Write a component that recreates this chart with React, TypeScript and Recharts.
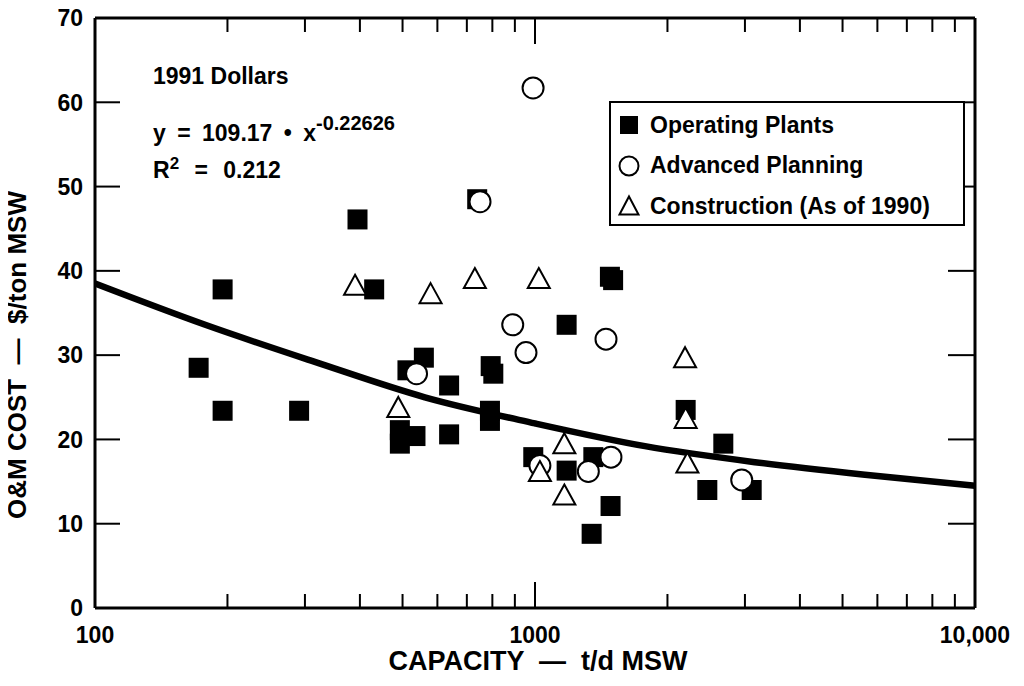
import React from 'react';
import { ScatterChart, Scatter, XAxis, YAxis, Legend, ReferenceLine } from 'recharts';

// Capacity (t/d MSW) and O&M cost ($/ton MSW) pairs for each plant status
const operatingPlants: [number, number][] = [
  [172, 28.5], [195, 37.8], [195, 23.4], [291, 23.4], [395, 46.1], [431, 37.8],
  [739, 48.5], [559, 29.7], [513, 28.2], [638, 26.4], [793, 28.7], [804, 27.8],
  [790, 23.4], [790, 22.2], [493, 21.1], [493, 19.5], [535, 20.4], [638, 20.6],
  [1180, 33.6], [1480, 39.3], [1505, 38.9], [991, 17.9], [1180, 16.3], [1357, 17.9],
  [1485, 12.1], [1345, 8.8], [2200, 23.5], [2679, 19.5], [2464, 14.0], [3108, 14.0],
];
const advancedPlanning: [number, number][] = [
  [750, 48.2], [990, 61.7], [890, 33.6], [1450, 31.9], [954, 30.3], [538, 27.8],
  [1026, 16.9], [1322, 16.2], [1488, 17.9], [2950, 15.2],
];
const construction: [number, number][] = [
  [390, 38.0], [579, 37.0], [730, 38.8], [1020, 38.8], [489, 23.5], [1166, 19.2],
  [1026, 15.9], [1166, 13.1], [2193, 29.4], [2200, 22.2], [2220, 16.9],
];

// Regression curve y = 109.17 * x^-0.22626
const fitCapacity = [100, 178, 316, 562, 1000, 1778, 3162, 5623, 10000];
const fitCost = [38.5, 33.6, 29.2, 25.0, 21.9, 19.2, 17.3, 15.8, 14.5];

const capacityTicks = [100, 200, 300, 400, 500, 600, 700, 800, 900, 1000, 2000, 3000, 4000, 5000, 6000, 7000, 8000, 9000, 10000];
const capacityLabels: Record<number, string> = { 100: '100', 1000: '1000', 10000: '10,000' };
const costTicks = [0, 10, 20, 30, 40, 50, 60, 70];

const seriesOrder = ['Operating Plants', 'Advanced Planning', 'Construction (As of 1990)'];

const X_MIN = capacityTicks[0];
const X_MAX = capacityTicks[capacityTicks.length - 1];
const Y_MIN = costTicks[0];
const Y_MAX = costTicks[costTicks.length - 1];

// Chart layout
const CHART_W = 1008;
const CHART_H = 678;
const MARGIN = { top: 18, right: 41, bottom: 0, left: 0 };
const Y_AXIS_W = 87;
const X_AXIS_H = 70;
const PLOT_W = CHART_W - MARGIN.left - MARGIN.right - Y_AXIS_W;
const PLOT_H = CHART_H - MARGIN.top - MARGIN.bottom - X_AXIS_H;

// Tick lengths in pixels, turned into axis units for the frame's edge ticks
const MINOR_TICK = 14;
const MAJOR_TICK = 26;
const LEFT_TICK = 25;
const RIGHT_TICK = 27;
const costPerPx = (Y_MAX - Y_MIN) / PLOT_H;
const decadesPerPx = Math.log10(X_MAX / X_MIN) / PLOT_W;

const toPoints = (rows: [number, number][]) => rows.map(([capacity, cost]) => ({ capacity, cost }));
const fitPoints = fitCapacity.map((capacity, i) => ({ capacity, cost: fitCost[i] }));

const innerCapacityTicks = capacityTicks.slice(1, -1);
const innerCostTicks = costTicks.slice(1, -1);
const bottomTickAnchors = innerCapacityTicks.map((capacity) => ({
  capacity,
  cost: Y_MIN,
  major: !!capacityLabels[capacity],
}));

const FONT = '"Liberation Sans", Arial, Helvetica, sans-serif';
const INK = '#000';

const Square = (props: any) => {
  const { cx, cy } = props;
  return <rect x={cx - 10} y={cy - 10} width={20} height={20} fill={INK} />;
};
const Circle = (props: any) => {
  const { cx, cy } = props;
  return <circle cx={cx} cy={cy} r={10.5} fill="#fff" stroke={INK} strokeWidth={2} />;
};
const Triangle = (props: any) => {
  const { cx, cy } = props;
  return (
    <path
      d={`M${cx},${cy - 13} L${cx + 11},${cy + 7} L${cx - 11},${cy + 7} Z`}
      fill="#fff"
      stroke={INK}
      strokeWidth={2}
    />
  );
};
const NoMark = () => <g />;

// Upward tick on the bottom edge of the frame
const BottomTickMark = (props: any) => {
  const { cx, cy, payload } = props;
  const len = payload && payload.major ? MAJOR_TICK : MINOR_TICK;
  return <path d={`M${cx},${cy}v${-len}`} stroke={INK} strokeWidth={2} fill="none" />;
};

const tickText = { fontFamily: FONT, fontWeight: 700, fontSize: 23, fill: INK } as const;

const CapacityLabel = (props: any) => {
  const { x, y, payload } = props;
  const label = capacityLabels[Number(payload.value)];
  if (!label) return <g />;
  return (
    <text x={x} y={y + 35} textAnchor="middle" style={tickText}>
      {label}
    </text>
  );
};
const CostLabel = (props: any) => {
  const { x, y, payload } = props;
  return (
    <text x={x - 12} y={y} dy="0.36em" textAnchor="end" style={tickText}>
      {payload.value}
    </text>
  );
};

const legendIcons: Record<string, React.ReactNode> = {
  'Operating Plants': <rect x={1} y={1} width={18} height={18} fill={INK} />,
  'Advanced Planning': <circle cx={10} cy={10} r={9.5} fill="#fff" stroke={INK} strokeWidth={2} />,
  'Construction (As of 1990)': <path d="M10,0.5 L19.5,18.5 L0.5,18.5 Z" fill="#fff" stroke={INK} strokeWidth={2} />,
};

const StatusLegend = (props: any) => {
  const names = (props.payload || []).map((p: any) => p.value);
  const items = seriesOrder.filter((n) => names.includes(n));
  return (
    <div
      style={{
        border: `2.5px solid ${INK}`,
        width: 356,
        height: 125,
        boxSizing: 'border-box',
        padding: '2px 0 0 8px',
        background: '#fff',
      }}
    >
      {items.map((name) => (
        <div key={name} style={{ display: 'flex', alignItems: 'center', height: 40.5 }}>
          <svg width={20} height={20} style={{ marginRight: 11, overflow: 'visible' }}>
            {legendIcons[name]}
          </svg>
          <span style={{ fontFamily: FONT, fontWeight: 700, fontSize: 23, color: INK, whiteSpace: 'nowrap' }}>
            {name}
          </span>
        </div>
      ))}
    </div>
  );
};

const overlayText: React.CSSProperties = {
  position: 'absolute',
  fontFamily: FONT,
  fontWeight: 700,
  fontSize: 23,
  color: INK,
  lineHeight: '24px',
  whiteSpace: 'pre',
};

export default function App() {
  return (
    <div style={{ position: 'relative', top: -8, width: CHART_W, height: CHART_H }}>
      <ScatterChart width={CHART_W} height={CHART_H} margin={MARGIN}>
        <XAxis
          dataKey="capacity"
          type="number"
          scale="log"
          domain={[X_MIN, X_MAX]}
          ticks={capacityTicks}
          interval={0}
          height={X_AXIS_H}
          tickSize={0}
          tickMargin={0}
          tickLine={false}
          axisLine={{ stroke: INK, strokeWidth: 3 }}
          tick={<CapacityLabel />}
        />
        <YAxis
          dataKey="cost"
          type="number"
          domain={[Y_MIN, Y_MAX]}
          ticks={costTicks}
          interval={0}
          width={Y_AXIS_W}
          tickSize={0}
          tickMargin={0}
          tickLine={false}
          axisLine={{ stroke: INK, strokeWidth: 3 }}
          tick={<CostLabel />}
        />

        {/* top and right edges of the frame */}
        <ReferenceLine y={Y_MAX} stroke={INK} strokeWidth={3} />
        <ReferenceLine x={X_MAX} stroke={INK} strokeWidth={3} />

        {/* downward ticks along the top edge */}
        {innerCapacityTicks.map((v) => (
          <ReferenceLine
            key={`top-${v}`}
            ifOverflow="visible"
            stroke={INK}
            strokeWidth={2}
            segment={[
              { x: v, y: Y_MAX },
              { x: v, y: Y_MAX - (capacityLabels[v] ? MAJOR_TICK : MINOR_TICK) * costPerPx },
            ]}
          />
        ))}
        {/* inward ticks along the left and right edges */}
        {innerCostTicks.map((v) => (
          <ReferenceLine
            key={`left-${v}`}
            ifOverflow="visible"
            stroke={INK}
            strokeWidth={2}
            segment={[
              { x: X_MIN, y: v },
              { x: X_MIN * Math.pow(10, LEFT_TICK * decadesPerPx), y: v },
            ]}
          />
        ))}
        {innerCostTicks.map((v) => (
          <ReferenceLine
            key={`right-${v}`}
            ifOverflow="visible"
            stroke={INK}
            strokeWidth={2}
            segment={[
              { x: X_MAX / Math.pow(10, RIGHT_TICK * decadesPerPx), y: v },
              { x: X_MAX, y: v },
            ]}
          />
        ))}

        <Scatter
          name="bottom ticks"
          data={bottomTickAnchors}
          shape={<BottomTickMark />}
          legendType="none"
          isAnimationActive={false}
        />

        <Scatter
          name="fit"
          data={fitPoints}
          line={{ stroke: INK, strokeWidth: 6.5 }}
          lineJointType="monotoneX"
          shape={<NoMark />}
          legendType="none"
          isAnimationActive={false}
        />
        <Scatter name="Operating Plants" data={toPoints(operatingPlants)} shape={<Square />} isAnimationActive={false} />
        <Scatter name="Advanced Planning" data={toPoints(advancedPlanning)} shape={<Circle />} isAnimationActive={false} />
        <Scatter
          name="Construction (As of 1990)"
          data={toPoints(construction)}
          shape={<Triangle />}
          isAnimationActive={false}
        />
        <Legend
          layout="vertical"
          align="center"
          verticalAlign="middle"
          content={<StatusLegend />}
          wrapperStyle={{ position: 'absolute', left: 601, top: 101, width: 356, height: 125 }}
        />
      </ScatterChart>

      <div style={{ ...overlayText, left: 145, top: 64 }}>1991 Dollars</div>
      <div style={{ ...overlayText, left: 145, top: 121, wordSpacing: 5 }}>
        y = 109.17 • x
        <span style={{ fontSize: 20, position: 'relative', top: -11 }}>-0.22626</span>
      </div>
      <div style={{ ...overlayText, left: 145, top: 158, wordSpacing: 9 }}>
        R<span style={{ fontSize: 17, position: 'relative', top: -9 }}>2</span> = 0.212
      </div>
      <div style={{ ...overlayText, fontSize: 27, left: 530, top: 649, transform: 'translateX(-50%)' }}>
        {'CAPACITY  —  t/d MSW'}
      </div>
      <div
        style={{
          ...overlayText,
          fontSize: 26,
          left: 9,
          top: 355,
          transform: 'translate(-50%, -50%) rotate(-90deg)',
        }}
      >
        {'O&M COST  —  $/ton MSW'}
      </div>
    </div>
  );
}
